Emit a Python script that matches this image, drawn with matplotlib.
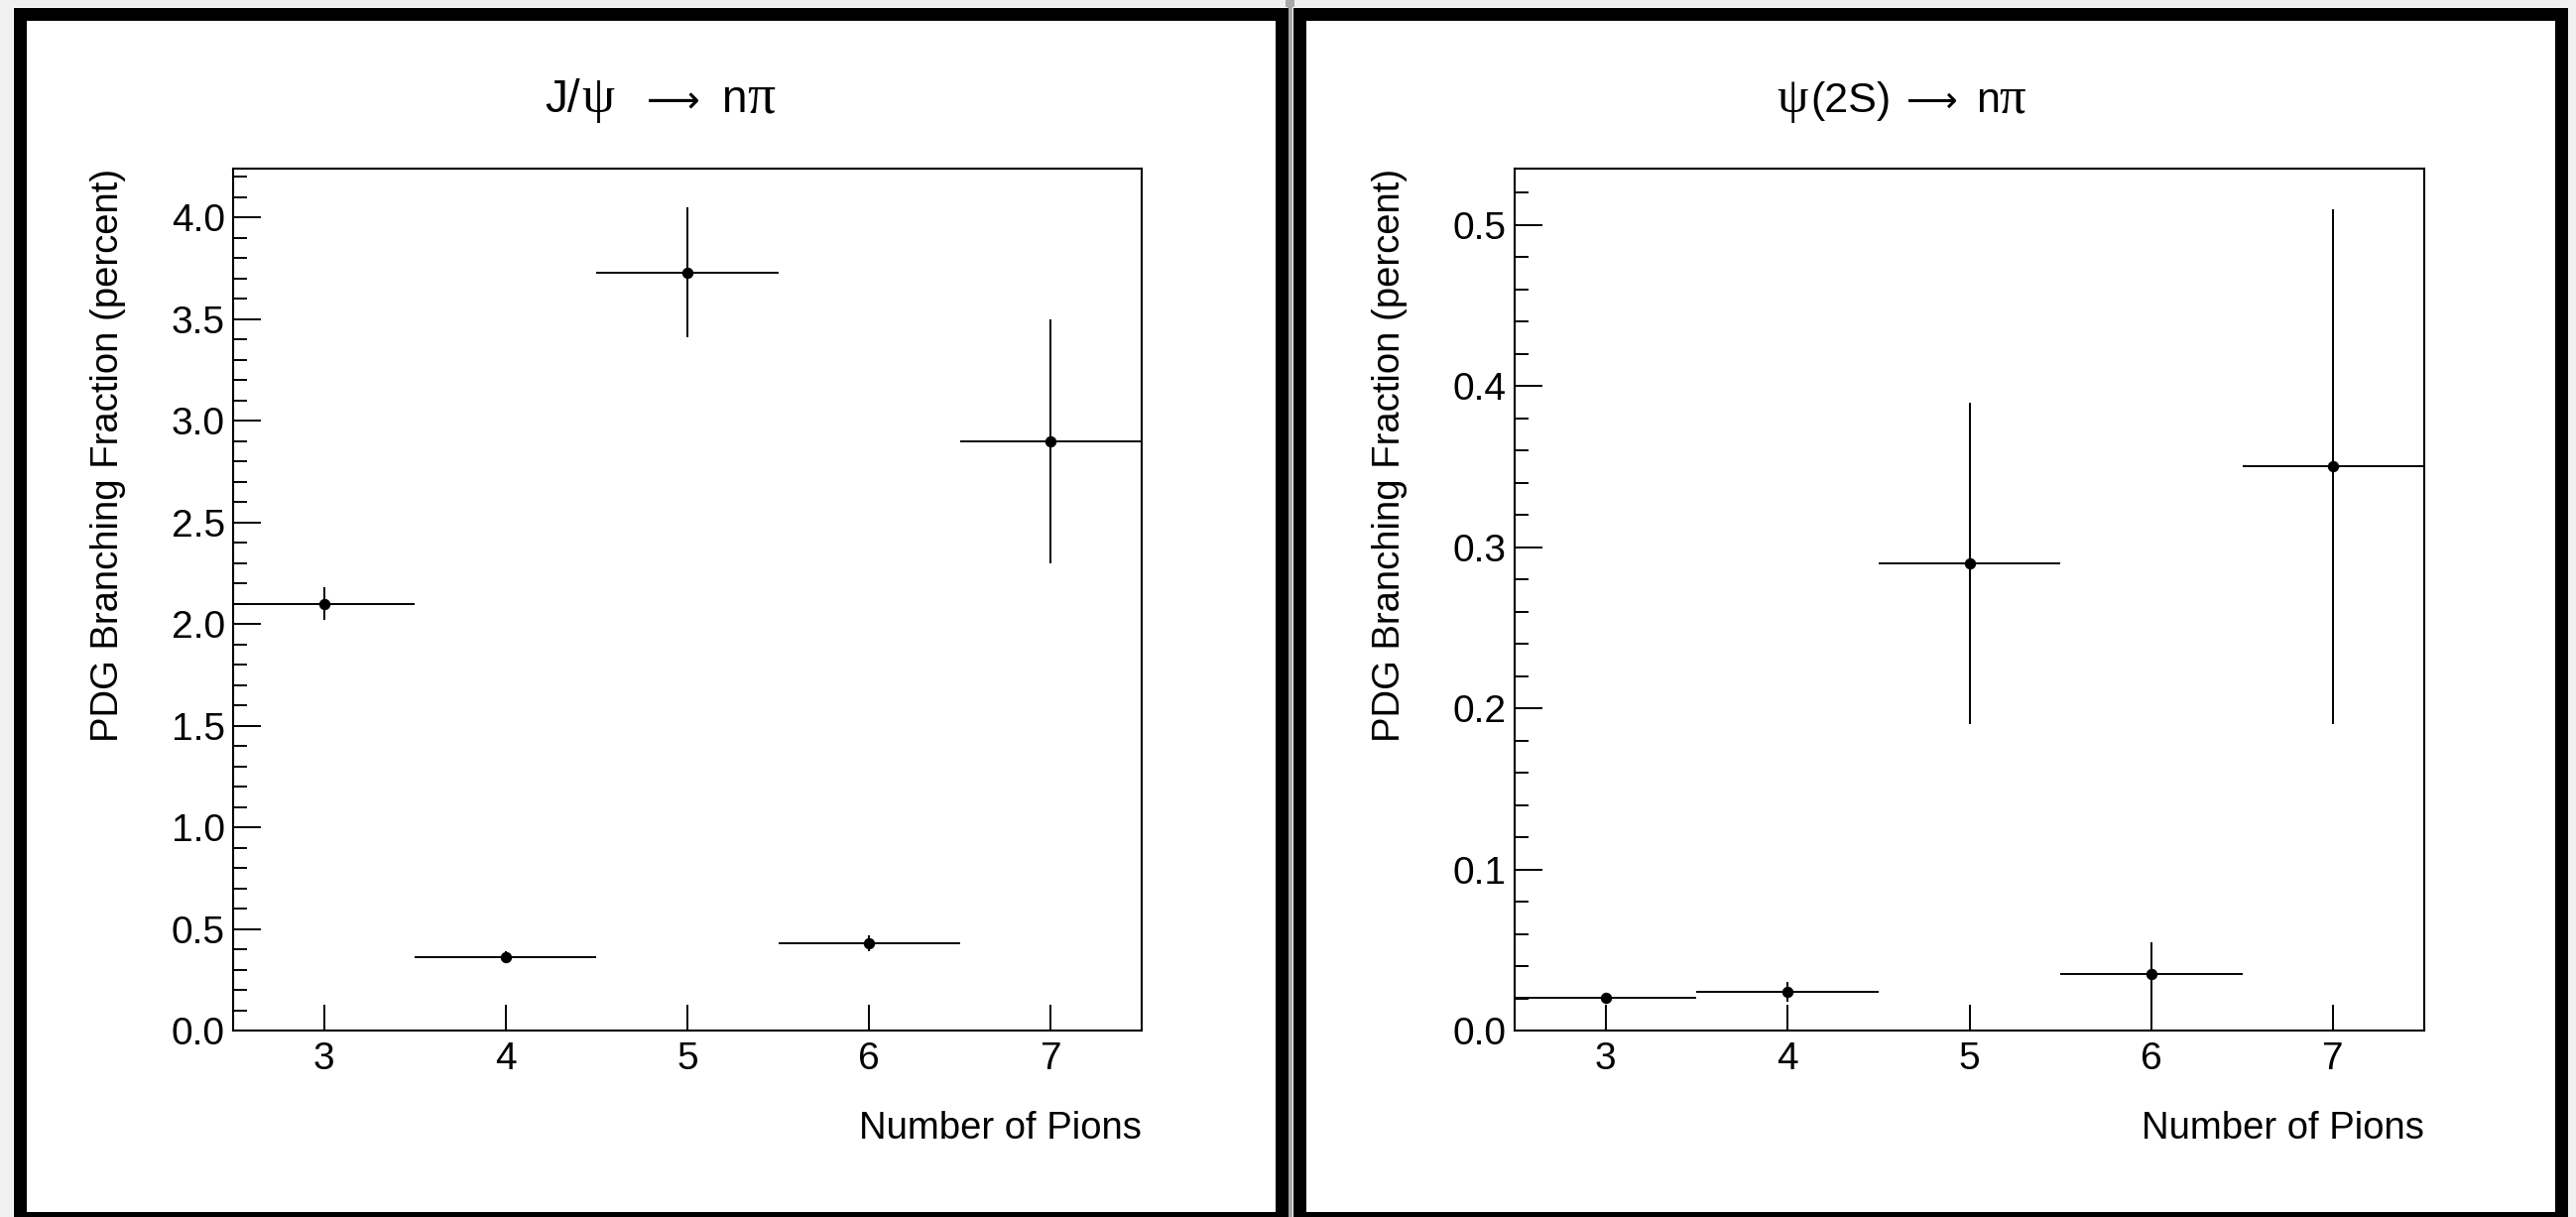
import matplotlib
matplotlib.use("Agg")
import matplotlib.pyplot as plt
from matplotlib.patches import Rectangle
from matplotlib.ticker import MultipleLocator, FormatStrFormatter

# data (PDG branching fractions, percent)
n_pions = [3, 4, 5, 6, 7]
bin_half_width = [0.5, 0.5, 0.5, 0.5, 0.5]
jpsi_bf = [2.10, 0.36, 3.73, 0.43, 2.90]
jpsi_err = [0.08, 0.03, 0.32, 0.04, 0.60]
psi2s_bf = [0.0201, 0.024, 0.29, 0.035, 0.35]
psi2s_err = [0.0017, 0.006, 0.10, 0.020, 0.16]

x_label = "Number of Pions"
y_label = "PDG Branching Fraction (percent)"

W, H = 2597, 1227
SANS = "Liberation Sans"
SERIF = "Liberation Serif"
ARROW = "DejaVu Sans"

fig = plt.figure(figsize=(W / 100, H / 100), dpi=100)
fig.patch.set_facecolor("#f0f0f0")


def fx(x):
    return x / W


def fy(y):
    return 1 - y / H


def frame(x0, x1, y0, y1, lw_px=13):
    # white pad with thick black border, edges given in pixels (outer)
    h = lw_px / 2
    fig.patches.append(Rectangle((fx(x0), fy(y1)), fx(x1 - x0), (y1 - y0) / H,
                                 transform=fig.transFigure, facecolor="white",
                                 edgecolor="none", zorder=-3))
    fig.patches.append(Rectangle((fx(x0 + h), fy(y1 - h)), fx(x1 - x0 - lw_px),
                                 (y1 - y0 - lw_px) / H, transform=fig.transFigure,
                                 facecolor="none", edgecolor="black",
                                 linewidth=lw_px * 0.72, zorder=5))


# gap between the two pads
fig.patches.append(Rectangle((fx(1296), 0), fx(9), 1, transform=fig.transFigure,
                             facecolor="#a8a8a8", edgecolor="none", zorder=-4))
frame(13, 1298, 7, 1234)
frame(1303, 2588, 7, 1234)


def draw_title(pieces, xc, y_base):
    renderer = fig.canvas.get_renderer()
    items = []
    total = 0
    for s, fam, size, gap in pieces:
        t = fig.text(0, fy(y_base), s, family=fam, size=size,
                     ha="left", va="baseline", zorder=6)
        w = t.get_window_extent(renderer).width
        items.append((t, w, gap))
        total += w + gap
    x = xc - total / 2
    for t, w, gap in items:
        t.set_x(fx(x))
        x += w + gap


def style_axes(ax, ymax, major, minor):
    ax.set_xlim(2.5, 7.5)
    ax.set_ylim(0, ymax)
    ax.xaxis.set_major_locator(MultipleLocator(1))
    ax.yaxis.set_major_locator(MultipleLocator(major))
    ax.yaxis.set_minor_locator(MultipleLocator(minor))
    ax.yaxis.set_major_formatter(FormatStrFormatter("%.1f"))
    ax.tick_params(axis="x", which="major", direction="in", length=19, width=1.4,
                   bottom=True, top=False, labelsize=28, pad=8)
    ax.tick_params(axis="x", which="minor", bottom=False, top=False)
    ax.tick_params(axis="y", which="major", direction="in", length=20, width=1.4,
                   left=True, right=False, labelsize=28, pad=6)
    ax.tick_params(axis="y", which="minor", direction="in", length=10, width=1.4,
                   left=True, right=False)
    for lab in ax.get_xticklabels() + ax.get_yticklabels():
        lab.set_family(SANS)
    for sp in ax.spines.values():
        sp.set_linewidth(1.5)
    ax.set_xlabel(x_label, family=SANS, size=27.5, ha="right", va="baseline")
    ax.xaxis.set_label_coords(1.0, -0.1254)
    ax.set_ylabel(y_label, family=SANS, size=27.5, ha="right", va="center")
    ax.yaxis.set_label_coords(-0.1377, 1.0)


ax1 = fig.add_axes([fx(235), fy(1039), fx(916), 869 / H])
ax2 = fig.add_axes([fx(1527), fy(1039), fx(917), 869 / H])

ax1.errorbar(n_pions, jpsi_bf, xerr=bin_half_width, yerr=jpsi_err, fmt="o",
             color="black", ms=7.2, elinewidth=1.4, capsize=0)
ax2.errorbar(n_pions, psi2s_bf, xerr=bin_half_width, yerr=psi2s_err, fmt="o",
             color="black", ms=7.2, elinewidth=1.4, capsize=0)

style_axes(ax1, 4.24, 0.5, 0.1)
style_axes(ax2, 0.535, 0.1, 0.02)

draw_title([("J/", SANS, 33, 2), ("ψ", SERIF, 38, 32), ("⟶", ARROW, 27, 22),
            ("n", SANS, 33, 0), ("π", SERIF, 40, 0)], 665, 113)
draw_title([("ψ", SERIF, 36, 2), ("(2S)", SANS, 31, 16), ("⟶", ARROW, 26, 18),
            ("n", SANS, 31, 0), ("π", SERIF, 38, 0)], 1917, 113)

fig.savefig("out.png", dpi=100, facecolor=fig.get_facecolor())
